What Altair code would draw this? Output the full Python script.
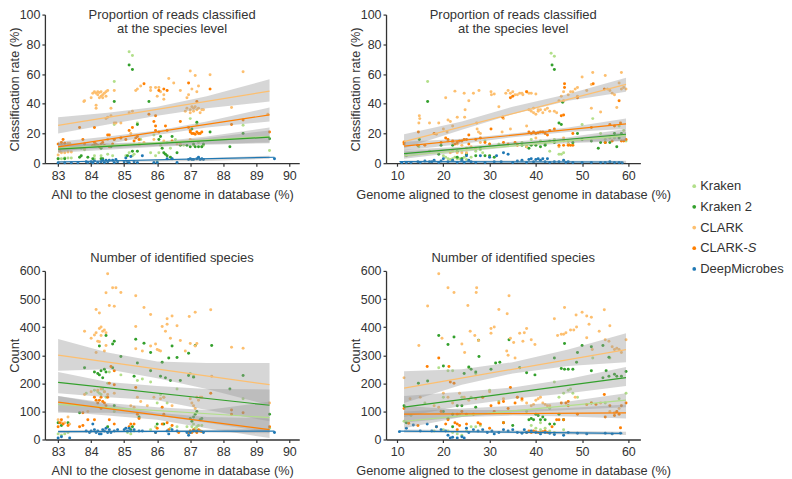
import altair as alt
import pandas as pd

FONT = "Liberation Sans"
INK = "#333333"
SERIES = ["Kraken", "Kraken 2", "CLARK", "CLARK-S", "DeepMicrobes"]
COLORS = ["#b2df8a", "#33a02c", "#fdbf6f", "#ff7f00", "#1f78b4"]

TITLE_READS = ["Proportion of reads classified", "at the species level"]
TITLE_COUNT = "Number of identified species"
X_ANI = "ANI to the closest genome in database (%)"
X_GEN = "Genome aligned to the closest genome in database (%)"
Y_READS = "Classification rate (%)"
Y_COUNT = "Count"
ANI_TICKS = [83, 84, 85, 86, 87, 88, 89, 90]
GEN_TICKS = [10, 20, 30, 40, 50, 60]
READ_TICKS = [0, 20, 40, 60, 80, 100]
COUNT_TICKS = [0, 100, 200, 300, 400, 500, 600]

# ---------- Panel 1: classification rate vs ANI ----------
p1_kraken = [(85.15,75),(85.25,72.5),(84.7,55),(83,3),(83.1,3),(83.2,3.5),(83.3,3.5),(83.4,3.5),(83.7,10),(83.8,9),(84.1,5),(84.1,3),(84.3,5),(84.5,6),(84.65,5),(84.7,26),(84.7,16),(85.05,5),(85.15,7),(85.25,5),(85.3,6),(85.4,27),(85.5,16),(85.8,7),(85.9,19),(85.95,5),(86.0,1),(86.05,7),(86.1,12),(86.3,14),(86.4,10),(86.45,3),(86.55,16),(86.6,14),(87,30),(87.05,15),(87.1,12),(87.2,26),(87.25,14),(87.35,11),(87.4,12),(88.6,25.5),(89.4,8.5),(86.8,12)]
p1_kraken2 = [(85.15,66),(85.25,63),(84.7,41.5),(85.75,41.5),(83.65,4),(83.7,5),(83.9,4),(84.05,3),(84.3,3),(84.35,3),(84.1,12),(84.3,10),(84.6,11),(85.25,8),(85.4,8),(85.4,26),(86.05,16),(86.1,18),(86.15,10),(86.2,7),(86.25,6),(86.3,5),(86.4,4),(86.6,7),(86.45,18),(86.7,12),(86.9,12),(87,11),(87.05,23),(87.1,13),(87.15,11),(87.2,27.5),(87.25,11),(87.35,11),(87.4,13),(87.6,21),(88.2,11),(88.6,20),(89.4,16.5),(83.2,3),(83,3),(85.1,5)]
p1_clark = [(84.05,47),(84.1,48),(84.15,47),(84.2,48),(84.25,47.5),(84.3,48),(84.35,46),(84.4,47),(84.45,48),(84.45,45),(84.3,45),(84.2,46),(84.25,44),(84.35,44),(84.0,44),(83.8,42),(83.78,41.5),(84.5,49),(84.7,49),(84.15,37),(84.15,39),(84.6,37),(84.45,30),(84.5,31),(84.6,32),(84.7,27),(84.75,27),(84.9,27),(85.15,34),(85.25,35),(85.35,49),(85.4,50),(85.5,52),(85.8,51),(85.8,49),(85.95,51),(86.05,51),(86.1,48),(86.2,46),(86.0,45),(86.2,43),(86.35,57),(86.5,54),(86.7,49),(86.95,46),(86.9,44),(87.0,62),(87.15,59),(87.25,52),(87.6,59.5),(88.6,61.5),(88.25,37.5),(87.05,50),(87.2,48),(86.85,35),(86.9,37),(87,36),(87.05,38),(87,34),(87.1,35),(87.15,38),(87.2,36),(87.25,37),(87.3,34),(87.35,36),(87.4,36),(87.1,37),(83,5.5),(83.05,8),(83.1,7),(83.2,7),(83.3,7.5),(83.4,7.5),(83.1,13),(83.3,13.5),(83.35,13.5),(84.9,17),(85.2,20),(85.5,13),(85.6,14),(85.9,16),(86.2,15),(86.6,13),(86.7,13),(87.0,16),(87.1,15),(83.8,10),(84.3,11),(84.5,16),(89.35,33)]
p1_clarks = [(83,13),(83.1,14),(83.15,16),(83.2,13.5),(83.65,24),(83.75,16),(83.8,13),(84.05,12),(84.1,24),(84.1,14),(84.15,13),(84.2,12),(84.25,11),(84.3,13),(84.35,14),(84.4,12),(84.5,19),(84.55,19),(84.55,11),(84.65,13),(84.7,16),(84.9,17),(85.05,16),(85.15,22),(85.25,24),(85.3,15),(85.35,17),(85.4,18),(85.45,16),(85.6,53.5),(85.75,33),(85.45,13),(85.95,32),(85.9,28),(85.95,22),(86.05,21),(85.95,25),(86.05,49),(86.2,50),(86.25,25),(86.3,22),(86.3,49),(86.45,15),(86.7,28),(86.95,54),(86.95,24),(87,22),(87.0,21),(87.05,20),(87.1,20),(87.15,19.5),(87.2,21),(87.25,20),(87.3,20),(87.35,21),(87.2,41.5),(87.6,50),(88.25,26),(88.6,29),(89.4,21)]
p1_deep = [(83,0.3),(83.2,0.3),(83.4,.3),(83.6,.3),(83.85,1),(83.9,.5),(84,1),(84.05,.3),(84.1,1.5),(84.2,.5),(84.3,1),(84.35,2),(84.4,.5),(84.5,1),(84.55,2),(84.65,2),(84.7,.5),(84.75,2.5),(84.8,1),(85,1),(85.05,3.5),(85.1,1),(85.15,.5),(85.2,4.5),(85.3,1),(85.4,.5),(85.55,5),(85.9,.5),(86,.5),(86.3,3),(86.45,3),(86.6,.5),(86.95,2.5),(87,3),(87.05,2.5),(87.1,2.5),(87.2,3),(87.25,4),(87.3,2.5),(87.35,3),(87.4,2.5),(89.55,3),(84.45,2)]
p1_lines = [[(83,10),(89.4,18)],[(83,9.5),(89.4,17.5)],[(83,25.5),(89.4,48.5)],[(83,11),(89.4,32.5)],[(83,0.8),(89.55,4)]]
ani_st = [83, 84.5, 86, 87.5, 89.4]
p1_low = [[8,10,11.5,13,14],[7,9,11,12.5,13.5],[20,26,32,37,41.5],[7,13,19,24,28],[0.2,0.8,1.2,1.5,3]]
p1_high = [[13,13,14,17,22],[13.5,13.5,14.5,18,24],[31,34,38,45,56.5],[14.5,18,22,28,37.5],[1.5,1.8,2.5,3.5,5]]

# ---------- Panel 2: classification rate vs genome aligned ----------
p2_kraken = [(16.6,55),(43.3,74),(44,72),(12,5),(14.7,11),(17,8),(20,5),(20.5,4),(21,3),(21.5,2.5),(22,3),(22.5,4),(23,3),(23.5,3),(24,3),(24.5,4),(25,2.5),(26,4),(27,8),(28,9),(28.5,7),(29,15),(30,13),(32,13),(37,14),(39,16),(41,15),(43,15),(44,16),(45,6),(45.5,6),(46,7),(47,15),(48,13),(50,26),(52.3,30),(54,20),(55,16),(56,17),(57,17),(58,25),(59,22),(59.5,15),(43,8)]
p2_kraken2 = [(16.6,41.5),(43.5,66),(44,63),(45.8,41),(14.8,16),(14.5,12),(19,6),(19.5,12),(22,12),(23,8),(25,6),(27,5),(28,10),(29,5),(30,5),(31,4),(37,12),(38,11),(38.5,10),(39,12),(40,12),(41,11),(42,12),(45,27),(45.5,26),(47,13),(48,14),(49,20),(50,16),(52,15),(53.5,10),(54,14),(55,14),(56,14),(57,20),(57.5,11),(58,17),(58.5,20),(42,13),(44,14),(23,4),(24,3)]
p2_clark = [(14.8,32),(14.9,30),(14.7,27),(17,27),(19,27),(20.5,44),(21,29),(21.5,28),(22,25),(20.8,21),(23,31),(22.5,48.5),(24.5,47),(24.7,36),(24.6,31),(26.5,47),(25.5,42),(27.2,27),(27.3,23),(27.6,21),(27.7,49),(28,20),(30.3,48),(30.4,46),(31,46.5),(32,38),(32.7,21),(33,30),(33.5,47),(34,49),(34.5,47),(35,48),(35.5,46),(36,46),(36.5,47),(37,47),(37.2,46),(38,48),(38.5,47),(39,47),(40,46.5),(34.5,23),(38,25),(38.5,36),(39,35),(39.5,34),(40,33),(40.5,35),(41,36),(41.5,34),(42,36),(42.5,37),(43,35),(39.5,37),(40.5,36),(44,35),(44.5,34),(45,42),(45.5,45),(46,48),(46,42),(47,46),(47.5,48),(48,48),(48.5,50),(49,51),(49,45),(50,58),(51,49),(52,37),(52.3,61),(52,53),(54,34.5),(55,59),(55.5,50),(56,49),(56.5,47),(57,46),(57.5,37.5),(58.5,61),(58.5,50),(59,51),(59.5,50),(58,54),(11.5,14.5),(18.5,19.5),(20,23),(21,15),(22,14),(23,13),(24,12),(25,10),(26,11),(22,8),(23,7),(24,7),(25,7),(21.5,7),(28,14),(27,10),(36,13),(38,11),(40,17),(46,17),(46,15),(47,13),(45,11)]
p2_clarks = [(11.5,14),(11.5,13),(14.6,21),(14.5,12),(16,12),(18,20),(19.5,14),(20.5,17),(21,16),(22,15),(22.5,13),(23,14),(23.5,15),(24,15),(24.5,16),(25,16),(25.5,13),(25.5,19),(27,16),(28,17),(29,14),(30,13),(30.3,23),(32.8,31),(33,14),(34,13),(34.5,44),(35,45),(35.5,14),(36,12),(38,48),(38.5,21),(39,20),(39.5,21),(40,20),(40.5,20.5),(41,21),(41.5,21),(42,20),(42.5,19),(43,22),(44,23),(45,12),(45.5,32),(46,32.5),(46.2,53.5),(46.2,51),(46,12),(47,12),(47.5,12),(48,20),(49,44),(52.4,53.5),(52,24),(54.8,50),(55,14),(56,26),(56.5,15),(57,25),(58,42),(58.3,27),(58.5,15),(59,15),(59.5,16),(48,12)]
p2_deep = [(11,.5),(12,.5),(13,.5),(14.5,1),(15,.5),(16,1.5),(17,1),(17.5,1),(18,2),(19,.5),(19.5,1.5),(20,3),(21,1),(22,2),(23,.5),(24,2),(24.5,.5),(25,5),(25.5,2),(26,1),(27,.5),(28,5),(29,.5),(30,4),(31,1),(31.5,5),(32.5,1),(34,6),(33,7),(35,.5),(36,1.5),(37,2),(38,.5),(38.5,2.5),(39,3),(39.5,1),(40,2.5),(40.5,3),(41,2),(41.5,3),(42,1),(42.5,3),(43,.5),(44,1),(45,1),(46,2),(46.5,.5),(47,1),(48,.5),(50,.5),(52,.5),(54,.5),(55,.5),(56,1),(57,.5),(58,.5),(58.7,.3)]
p2_lines = [[(11.5,5),(59.5,18.5)],[(11.5,6.5),(59.5,19.5)],[(11.5,14.5),(59.5,53)],[(11.5,11.5),(59.5,26.5)],[(10.5,1.1),(58.7,0.8)]]
gen_st = [11.5, 24, 35, 47, 59.5]
p2_low = [[3,7.5,11,13.5,15],[4,9,12.5,14.5,15],[10,22.5,33,42,48],[8.5,13,17.5,21,23],[0.3,0.4,0.4,0.3,0.1]]
p2_high = [[8,10,13.5,16.5,21],[9,11,14.5,17.5,23],[19.5,28,38,46.5,57.5],[14.5,16.5,20,24,30],[1.9,1.8,1.8,1.7,1.6]]

# ---------- Panel 3: identified species vs ANI ----------
p3_kraken = [(84.55,240),(84.5,200),(84.1,175),(84.2,170),(84.25,165),(84.3,160),(84.35,180),(84.4,170),(84.45,150),(83,20),(83.1,15),(83.2,20),(83.3,25),(83.85,165),(84.7,100),(84.9,230),(85.3,30),(85.1,25),(85.2,20),(85.4,210),(85.55,215),(85.8,205),(85.95,45),(86,130),(86.1,160),(86.2,150),(86.3,130),(86.6,180),(86.6,45),(86.9,45),(87,30),(87.05,45),(87.1,55),(87.15,40),(87.2,45),(87.25,50),(87.3,30),(87.35,50),(87,235),(87.1,225),(88.6,145),(89.4,40),(85.8,35),(86.4,40)]
p3_kraken2 = [(84.7,350),(84.65,340),(84.45,370),(84.25,333),(85.35,357),(85.6,343),(85.8,310),(86.15,275),(86.35,290),(86.45,333),(86.6,292),(86.95,307),(87.15,335),(87.65,335),(84.9,295),(85.4,272),(84.1,240),(84.2,235),(84.25,230),(84.35,220),(84.4,250),(84.45,240),(84.3,245),(83.8,255),(84.65,255),(85.3,225),(85.8,245),(86.1,225),(86.25,220),(86.4,210),(86.7,210),(86.95,228),(87.1,222),(88.6,228),(88.2,180),(89.4,90),(84.7,120),(83.65,95),(83,60),(83.1,50),(83.3,60),(84.5,45),(85.45,80),(85.25,45),(86,55),(86.2,55),(87,75),(87.05,65),(87.1,80),(87.15,90),(87.2,100),(87.3,70),(87.35,75),(85.2,35)]
p3_clark = [(84.5,590),(84.45,522),(84.65,540),(84.75,540),(84.9,523),(85.35,512),(84.55,477),(84.7,474),(84.15,463),(84.25,450),(85.6,470),(85.8,445),(86.3,430),(86.45,440),(86.97,438),(87.15,453),(87.62,462),(83.8,385),(84,360),(84.1,372),(84.15,380),(84.25,395),(84.3,400),(84.35,385),(84.4,390),(84.45,380),(84.3,370),(84.2,350),(84.25,348),(84.45,335),(84.4,315),(84.15,310),(85.35,402),(85.35,323),(85.55,315),(85.8,333),(85.95,340),(86,320),(86.05,318),(86.1,315),(86.15,402),(86.3,410),(86.25,385),(86.4,360),(86.6,405),(86.7,352),(86.85,315),(87,342),(87.15,333),(87.2,342),(88.25,328),(88.6,325),(84,170),(83.8,160),(84.2,175),(84.3,180),(84.4,170),(84.5,160),(84.7,165),(83,70),(83.1,60),(83.2,60),(83.3,80),(83.35,55),(83.9,100),(85.2,120),(85.3,115),(85.4,150),(85.5,135),(85.7,120),(85.9,150),(86.1,145),(86.2,150),(86.45,120),(87,145),(87.05,130),(87.1,120),(87.15,110),(87.2,150),(87.25,140),(87.3,150),(87.35,150),(89.4,130),(87.65,225)]
p3_clarks = [(83,45),(83.05,60),(83.1,70),(83.15,55),(83.3,50),(83.65,45),(83.75,50),(83.75,95),(84.1,70),(84.1,150),(84.15,140),(84.2,130),(84.25,140),(84.3,150),(84.35,135),(84.4,130),(84.45,120),(84.5,150),(84.55,200),(84.6,260),(84.7,245),(84.7,195),(84.55,70),(84.7,55),(85.15,45),(85.2,55),(85.3,55),(85.35,185),(85.4,90),(85.45,75),(85.95,25),(86.0,40),(86.15,55),(86.2,90),(86.3,60),(86.15,115),(86.35,35),(86.45,50),(86.65,25),(86.95,25),(87,30),(87.05,25),(87.1,35),(87.15,30),(87.2,25),(87.25,35),(87.3,30),(87.35,28),(87.62,165),(88.25,105),(88.25,90),(88.6,95),(89.4,45),(84.3,110),(83.9,70)]
p3_deep = [(83,5),(83.1,10),(83.35,5),(83.85,30),(83.95,25),(84,30),(84.05,55),(84.1,35),(84.15,25),(84.2,30),(84.25,20),(84.3,20),(84.35,35),(84.4,30),(84.45,40),(84.5,25),(84.55,35),(84.6,25),(84.7,30),(84.8,35),(85,35),(85.05,40),(85.1,30),(85.15,40),(85.2,30),(85.3,35),(85.45,30),(85.55,30),(85.95,25),(86.3,30),(86.35,20),(86.45,35),(86.6,30),(86.9,25),(86.95,15),(87,25),(87.1,30),(87.2,30),(87.4,25),(89.55,25)]
p3_lines = [[(83,125),(89.4,78)],[(83,203),(89.4,122)],[(83,300),(89.4,195)],[(83,133),(89.4,35)],[(83,28),(89.55,30)]]
p3_low = [[95,95,85,60,25],[165,150,140,105,65],[245,250,218,180,122],[100,85,70,40,5],[22,24,26,25,22]]
p3_high = [[155,130,115,105,135],[240,205,190,180,178],[358,310,278,272,272],[155,125,95,80,75],[34,33,33,35,38]]

# ---------- Panel 4: identified species vs genome aligned ----------
p4_kraken = [(19,255),(21,245),(22,245),(25.5,255),(27,235),(13,85),(11.5,65),(16,130),(20,150),(24,150),(26,150),(30,175),(32,135),(36,150),(38,100),(43,110),(44,205),(45,150),(46,165),(47,175),(47.5,180),(48,165),(49,150),(52,130),(55,130),(58,145),(59.5,165),(18,30),(20,35),(21,30),(22,25),(23,20),(24,15),(25,30),(26,45),(27,45),(28,50),(39,50),(40,40),(41,35),(42,40),(43,30),(44,25),(46,35),(52.3,290),(41,60),(56,290),(23.5,90)]
p4_kraken2 = [(19,370),(21,338),(22.3,365),(27.6,353),(27.7,295),(34.2,355),(46.2,342),(50,335),(52,330),(54.5,335),(55.8,293),(14.6,200),(16.6,208),(20,262),(25.5,258),(24.5,235),(26,250),(27,240),(30.3,250),(31.3,272),(32.2,275),(36.5,255),(38,238),(39.8,230),(44,290),(45.5,253),(46.2,250),(47,250),(48,250),(49,310),(48.8,275),(52,245),(54.5,220),(55.2,245),(55.8,225),(57,232),(57.5,225),(58.5,225),(59.5,242),(11.5,120),(20,100),(22,90),(23,120),(24,120),(27,115),(33,60),(35,50),(38.5,70),(39,75),(39.5,70),(40,90),(40.5,85),(41,70),(41.5,80),(42,70),(43,55),(44,55),(45,90),(46,70),(12,60),(22,45),(21,75)]
p4_clark = [(19,590),(21,540),(22.3,523),(27.2,540),(27.1,523),(34.2,512),(16.6,475),(25.3,477),(32,463),(33.8,448),(44,430),(46.2,470),(48.7,443),(50,453),(51,440),(52,435),(54.8,462),(53.7,385),(56,405),(14.7,335),(19.7,360),(24,340),(24.6,310),(25.8,385),(26.8,370),(27.6,352),(30.3,395),(30.3,378),(31,400),(33.7,315),(34,300),(34.5,360),(35.2,345),(35.5,290),(36.5,378),(37.2,350),(37.5,380),(38,395),(39,355),(39.8,338),(44.7,370),(45.5,375),(46,375),(46.5,380),(47.5,390),(48.2,390),(48.8,400),(51.5,410),(51,362),(52.2,320),(55,355),(55.8,350),(56.5,330),(57,320),(57.5,325),(58,320),(58.5,310),(59.5,355),(11.5,220),(12.8,145),(15,150),(18,120),(19,115),(20,165),(21,150),(22,130),(23.5,165),(24.5,150),(25.5,140),(27,145),(28.5,150),(30,170),(33,145),(38,130),(39.5,125),(40,140),(40.5,145),(41,150),(41.5,130),(42,125),(42.5,120),(43,120),(39,120),(37,140),(48.5,150),(54,130),(56,100),(57,95),(58,110)]
p4_clarks = [(11.5,110),(12.5,58),(14.5,50),(16.5,260),(18.5,45),(19,290),(19.5,100),(20.5,55),(21,70),(21.2,260),(21.5,205),(22.3,200),(22.5,60),(23,55),(23.5,50),(23,90),(23,35),(24,100),(25,55),(25,90),(26.5,90),(27.5,60),(28,55),(28.5,150),(30,40),(30.3,120),(31,100),(32,130),(33,135),(33,60),(34,110),(34.5,185),(35.5,130),(36,150),(37,145),(38,25),(38.5,30),(39,25),(39.5,30),(40,28),(40.5,25),(41,25),(41.5,28),(42,30),(42.5,25),(43.5,45),(44.5,70),(45,70),(45.5,130),(46,70),(46.5,130),(47,135),(47,120),(49,90),(51,125),(52,130),(53,125),(54.8,160),(55,80),(56,120),(57,85),(57.5,100),(58,90),(58.3,42),(58.5,120),(59.5,130)]
p4_deep = [(10.5,28),(12,40),(13.5,52),(15,30),(16.5,55),(17.5,30),(18.5,45),(19.5,35),(20.5,30),(21,15),(21.5,5),(22,8),(23,5),(24,10),(24.5,5),(25,40),(25.5,25),(26.5,35),(27.5,30),(28.5,35),(29.5,25),(30.5,30),(31,20),(32,25),(33,35),(34,30),(35,35),(36,25),(37,22),(38,25),(39,30),(40,25),(41,20),(42,25),(43,22),(44,18),(46,15),(47,25),(49,22),(51,20),(55,22),(56.5,20),(58.3,22),(37.5,35)]
p4_lines = [[(11.5,65),(59.5,140)],[(11.5,115),(59.5,220)],[(11.5,183),(59.5,320)],[(11.5,90),(59.5,95)],[(10.5,30),(58.7,22)]]
p4_low = [[40,80,95,105,115],[80,120,145,165,190],[130,195,235,262,275],[60,80,85,82,75],[24,24,22,18,16]]
p4_high = [[100,110,120,135,165],[155,170,185,215,258],[243,250,275,320,378],[120,105,105,112,125],[36,34,32,30,28]]

XA = dict(ticks=ANI_TICKS, dom=[82.6, 90.3], title=X_ANI)
XG = dict(ticks=GEN_TICKS, dom=[7.6, 62.6], title=X_GEN)


def panel(points, lines, stations, low, high, xa, yticks, ydom, ytitle, title, h):
    pts = pd.DataFrame(
        [{"series": s, "x": a, "y": b} for s, ps in zip(SERIES, points) for a, b in ps]
    )
    lns = pd.DataFrame(
        [{"series": s, "x": a, "y": b} for s, ps in zip(SERIES, lines) for a, b in ps]
    )
    bnd = pd.DataFrame(
        [
            {"series": s, "x": x, "low": l, "high": u}
            for i, s in enumerate(SERIES)
            for x, l, u in zip(stations, low[i], high[i])
        ]
    )
    xs = alt.Scale(domain=xa["dom"], nice=False, zero=False)
    ys = alt.Scale(domain=ydom, nice=False, zero=False)
    col = alt.Color("series:N", scale=alt.Scale(domain=SERIES, range=COLORS), legend=None)
    xax = alt.Axis(values=xa["ticks"], title=xa["title"], format="d", labelPadding=3, titlePadding=7)
    yax = alt.Axis(values=yticks, title=ytitle, format="d", labelPadding=2, titlePadding=-2)
    dots = alt.Chart(pts).mark_circle(size=9, opacity=1).encode(
        x=alt.X("x:Q", scale=xs, axis=xax),
        y=alt.Y("y:Q", scale=ys, axis=yax),
        color=col,
    )
    bands = alt.Chart(bnd).mark_area(color="#999999", opacity=0.4).encode(
        x=alt.X("x:Q", scale=xs, axis=xax),
        y=alt.Y("low:Q", scale=ys, axis=yax),
        y2="high:Q",
        detail="series:N",
    )
    fit = alt.Chart(lns).mark_line(strokeWidth=1.2).encode(
        x=alt.X("x:Q", scale=xs, axis=xax),
        y=alt.Y("y:Q", scale=ys, axis=yax),
        color=col,
        detail="series:N",
    )
    layers = [dots, bands, fit]
    props = dict(width=255, height=h)
    if isinstance(title, list):
        # The two-line heading sits inside the plot area, level with the top tick
        head = pd.DataFrame(
            {"x": [sum(xa["dom"]) / 2] * 2, "y": [100, 90], "t": title}
        )
        layers.append(
            alt.Chart(head).mark_text(
                align="center", baseline="middle", font=FONT, fontSize=13, color=INK
            ).encode(
                x=alt.X("x:Q", scale=xs, axis=xax),
                y=alt.Y("y:Q", scale=ys, axis=yax),
                text="t:N",
            )
        )
    else:
        props["title"] = alt.TitleParams(
            text=title, fontSize=13, fontWeight="normal", font=FONT, color=INK,
            anchor="middle", offset=0,
        )
    return alt.layer(*layers).properties(**props)


c1 = panel([p1_kraken, p1_kraken2, p1_clark, p1_clarks, p1_deep], p1_lines, ani_st, p1_low, p1_high,
           XA, READ_TICKS, [0, 100], Y_READS, TITLE_READS, 149)
c2 = panel([p2_kraken, p2_kraken2, p2_clark, p2_clarks, p2_deep], p2_lines, gen_st, p2_low, p2_high,
           XG, READ_TICKS, [0, 100], Y_READS, TITLE_READS, 149)
c3 = panel([p3_kraken, p3_kraken2, p3_clark, p3_clarks, p3_deep], p3_lines, ani_st, p3_low, p3_high,
           XA, COUNT_TICKS, [0, 600], Y_COUNT, TITLE_COUNT, 169)
c4 = panel([p4_kraken, p4_kraken2, p4_clark, p4_clarks, p4_deep], p4_lines, gen_st, p4_low, p4_high,
           XG, COUNT_TICKS, [0, 600], Y_COUNT, TITLE_COUNT, 169)

# Legend panel drawn as marks so that the S of CLARK-S can be italic
legend_names = ["Kraken", "Kraken 2", "CLARK", "CLARK-", "DeepMicrobes"]
leg = pd.DataFrame({"series": SERIES, "label": legend_names})
leg_it = pd.DataFrame({"series": ["CLARK-S"], "label": ["S"]})
ly = alt.Y("series:N", scale=alt.Scale(type="point", domain=SERIES, range=[172, 255], padding=0), axis=None)
lx = alt.X("k:Q", scale=alt.Scale(domain=[0, 100], range=[0, 100]), axis=None)
leg_dots = alt.Chart(leg).transform_calculate(k="19").mark_circle(size=14, opacity=1).encode(
    x=lx, y=ly,
    color=alt.Color("series:N", scale=alt.Scale(domain=SERIES, range=COLORS), legend=None),
)
leg_text = alt.Chart(leg).transform_calculate(k="25").mark_text(
    align="left", baseline="middle", font=FONT, fontSize=13, color=INK
).encode(x=lx, y=ly, text="label:N")
leg_s = alt.Chart(leg_it).transform_calculate(k="25").mark_text(
    align="left", baseline="middle", font=FONT, fontSize=13, color=INK, fontStyle="italic", dx=47.7
).encode(x=lx, y=ly, text="label:N")
legend_panel = alt.layer(leg_dots, leg_text, leg_s).properties(width=100, height=300)

left = alt.vconcat(c1, c3, spacing=50)
mid = alt.vconcat(c2, c4, spacing=50)
plots = alt.hconcat(left, mid, spacing=50)
chart = (
    alt.hconcat(plots, legend_panel, spacing=4)
    .properties(padding=0)
    .configure_view(stroke=None)
    .configure_axis(
        grid=False,
        domainColor=INK,
        domainWidth=1.3,
        tickColor=INK,
        tickWidth=1.2,
        tickSize=3,
        labelColor=INK,
        titleColor=INK,
        labelFont=FONT,
        titleFont=FONT,
        labelFontSize=12.5,
        titleFontSize=12.8,
        titleFontWeight="normal",
    )
)
chart.save("out.html", embed_options={"renderer": "svg", "actions": False})
